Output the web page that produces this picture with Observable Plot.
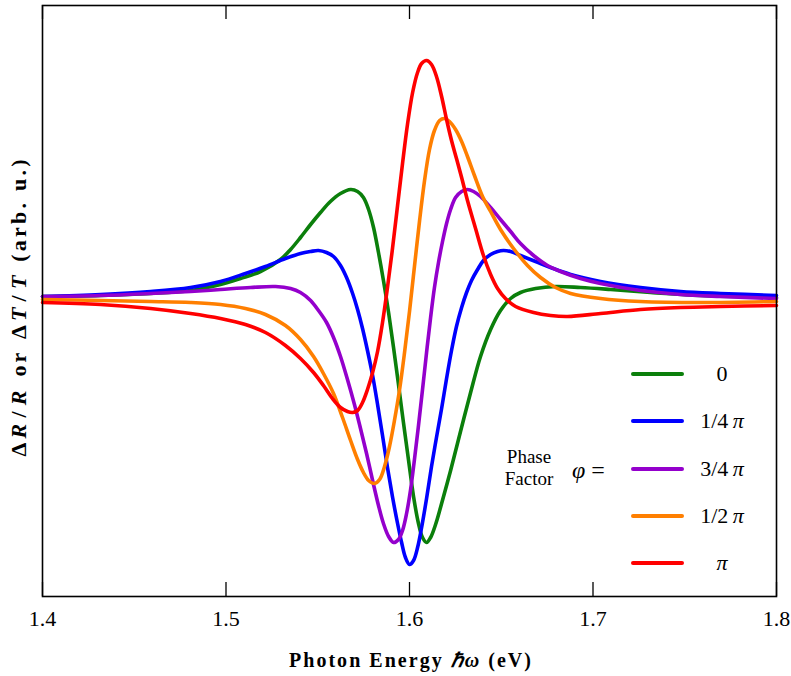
<!DOCTYPE html>
<html><head><meta charset="utf-8">
<script src="https://cdn.jsdelivr.net/npm/d3@7"></script>
<script src="https://cdn.jsdelivr.net/npm/@observablehq/plot@0.6"></script>
<style>
body{margin:0;background:#fff;}
#wrap{position:relative;width:791px;height:676px;font-family:"Liberation Serif","Times New Roman",serif;color:#000;}
.sw{position:absolute;left:631px;width:53px;height:4px;border-radius:2px;}
.lab{position:absolute;left:684px;width:76px;text-align:center;font-size:22px;line-height:24px;white-space:nowrap;}
.lab i{font-style:italic;}
.pf{position:absolute;left:489px;width:80px;text-align:center;font-size:19px;line-height:20px;white-space:nowrap;}
#phi{position:absolute;left:572px;top:457px;font-size:24px;line-height:26px;white-space:nowrap;}
</style></head><body><div id="wrap"></div>
<script>
// phase factors (legend order) and labels
const phaseKeys = ["0", "1/4π", "3/4π", "1/2π", "π"];
const phaseLabels = ["0", "1/4&thinsp;<i>π</i>", "3/4&thinsp;<i>π</i>", "1/2&thinsp;<i>π</i>", "<i>π</i>"];
const xTicks = [1.4, 1.5, 1.6, 1.7, 1.8];

// φ = 0
const energy0 = [1.4000,1.4316,1.4589,1.4807,1.4970,1.5079,1.5188,1.5297,1.5352,1.5406,1.5461,1.5515,1.5569,1.5624,1.5679,1.5717,1.5749,1.5777,1.5804,1.5831,1.5858,1.5886,1.5913,1.5940,1.5967,1.5995,1.6022,1.6049,1.6071,1.6093,1.6115,1.6142,1.6169,1.6224,1.6278,1.6333,1.6387,1.6442,1.6496,1.6551,1.6605,1.6687,1.6796,1.6932,1.7096,1.7314,1.7586,1.8000];
const signal0 = [0.04,0.05,0.07,0.10,0.16,0.22,0.29,0.41,0.51,0.63,0.76,0.88,0.99,1.07,1.11,1.09,1.03,0.91,0.73,0.48,0.20,-0.12,-0.47,-0.84,-1.22,-1.60,-1.96,-2.23,-2.37,-2.42,-2.37,-2.24,-2.07,-1.70,-1.31,-0.92,-0.56,-0.29,-0.10,0.02,0.08,0.12,0.14,0.13,0.11,0.08,0.05,0.03];
// φ = π/4
const energy1 = [1.4000,1.4316,1.4589,1.4807,1.4970,1.5106,1.5215,1.5324,1.5406,1.5461,1.5504,1.5548,1.5586,1.5624,1.5657,1.5690,1.5717,1.5744,1.5771,1.5799,1.5826,1.5853,1.5880,1.5908,1.5935,1.5957,1.5978,1.6000,1.6022,1.6044,1.6066,1.6093,1.6120,1.6147,1.6175,1.6202,1.6229,1.6256,1.6284,1.6311,1.6338,1.6371,1.6403,1.6442,1.6480,1.6512,1.6551,1.6605,1.6687,1.6769,1.6878,1.7041,1.7259,1.7477,1.7695,1.8000];
const signal1 = [0.04,0.06,0.09,0.13,0.19,0.27,0.34,0.42,0.47,0.49,0.50,0.48,0.44,0.35,0.23,0.07,-0.09,-0.28,-0.50,-0.75,-1.04,-1.35,-1.67,-1.97,-2.23,-2.42,-2.57,-2.64,-2.60,-2.47,-2.27,-1.98,-1.66,-1.37,-1.08,-0.78,-0.50,-0.26,-0.07,0.08,0.20,0.31,0.40,0.46,0.49,0.50,0.49,0.45,0.39,0.33,0.26,0.19,0.13,0.09,0.07,0.05];
// φ = 3π/4
const energy2 = [1.4000,1.4316,1.4589,1.4807,1.4970,1.5134,1.5270,1.5352,1.5406,1.5461,1.5504,1.5548,1.5586,1.5624,1.5662,1.5700,1.5733,1.5766,1.5799,1.5831,1.5858,1.5886,1.5913,1.5940,1.5962,1.5984,1.6006,1.6027,1.6049,1.6071,1.6093,1.6115,1.6136,1.6158,1.6180,1.6202,1.6224,1.6251,1.6284,1.6316,1.6349,1.6387,1.6442,1.6496,1.6551,1.6605,1.6676,1.6752,1.6823,1.6932,1.7041,1.7259,1.7477,1.7695,1.8000];
const signal2 = [0.04,0.05,0.07,0.09,0.11,0.13,0.14,0.12,0.08,0.00,-0.10,-0.22,-0.37,-0.56,-0.79,-1.04,-1.28,-1.53,-1.80,-2.05,-2.23,-2.36,-2.42,-2.39,-2.30,-2.13,-1.89,-1.59,-1.25,-0.89,-0.52,-0.17,0.13,0.38,0.59,0.77,0.91,1.03,1.09,1.11,1.09,1.04,0.93,0.81,0.69,0.57,0.45,0.35,0.29,0.22,0.17,0.10,0.06,0.04,0.02];
// φ = π/2
const energy3 = [1.4000,1.4316,1.4589,1.4807,1.4970,1.5106,1.5215,1.5324,1.5406,1.5477,1.5531,1.5586,1.5635,1.5679,1.5717,1.5749,1.5777,1.5809,1.5837,1.5864,1.5891,1.5918,1.5946,1.5973,1.6000,1.6027,1.6055,1.6082,1.6109,1.6136,1.6164,1.6191,1.6218,1.6251,1.6284,1.6316,1.6354,1.6398,1.6442,1.6496,1.6567,1.6643,1.6714,1.6796,1.6878,1.7041,1.7259,1.7586,1.8000];
const signal3 = [0.01,0.00,-0.01,-0.02,-0.04,-0.08,-0.14,-0.25,-0.39,-0.56,-0.73,-0.93,-1.17,-1.40,-1.59,-1.72,-1.80,-1.83,-1.79,-1.66,-1.46,-1.20,-0.89,-0.52,-0.11,0.34,0.80,1.20,1.51,1.70,1.80,1.82,1.79,1.71,1.59,1.44,1.25,1.04,0.89,0.71,0.52,0.35,0.23,0.13,0.07,0.02,-0.01,-0.02,-0.01];
// φ = π
const energy4 = [1.4000,1.4316,1.4589,1.4807,1.4970,1.5106,1.5215,1.5324,1.5406,1.5477,1.5531,1.5580,1.5624,1.5662,1.5690,1.5717,1.5744,1.5771,1.5799,1.5826,1.5853,1.5880,1.5908,1.5935,1.5962,1.5989,1.6017,1.6044,1.6066,1.6093,1.6120,1.6147,1.6175,1.6202,1.6229,1.6256,1.6284,1.6316,1.6360,1.6403,1.6442,1.6480,1.6523,1.6578,1.6676,1.6769,1.6861,1.7041,1.7259,1.7477,1.7695,1.8000];
const signal4 = [-0.02,-0.04,-0.08,-0.13,-0.18,-0.24,-0.32,-0.45,-0.58,-0.72,-0.85,-0.98,-1.07,-1.11,-1.12,-1.10,-1.02,-0.89,-0.72,-0.51,-0.22,0.13,0.53,0.95,1.37,1.76,2.08,2.28,2.37,2.40,2.36,2.24,2.04,1.81,1.60,1.42,1.23,1.00,0.72,0.45,0.26,0.12,0.02,-0.06,-0.12,-0.15,-0.16,-0.13,-0.09,-0.07,-0.06,-0.05];

const lineColors = ["#0b7f0b", "#0000ff", "#9400cc", "#ff7f00", "#ff0000"];

const seriesList = [
  {key: phaseKeys[0], energy: energy0, signal: signal0},
  {key: phaseKeys[1], energy: energy1, signal: signal1},
  {key: phaseKeys[2], energy: energy2, signal: signal2},
  {key: phaseKeys[3], energy: energy3, signal: signal3},
  {key: phaseKeys[4], energy: energy4, signal: signal4}
];
const rows = seriesList.flatMap(s => s.energy.map((e, i) => ({phase: s.key, energy: e, signal: s.signal[i]})));

const W = 791, H = 676, mL = 42, mR = 15, mT = 5, mB = 80;
const innerH = H - mT - mB;

const chart = Plot.plot({
  width: W, height: H,
  marginLeft: mL, marginRight: mR, marginTop: mT, marginBottom: mB,
  style: {fontFamily: "'Liberation Serif','Times New Roman',serif", fontSize: "22px", background: "white", overflow: "visible", color: "black"},
  x: {domain: [1.4, 1.8]},
  y: {domain: [-2.96, 2.95], axis: null},
  color: {domain: phaseKeys, range: lineColors},
  marks: [
    Plot.line(rows, {x: "energy", y: "signal", z: "phase", stroke: "phase", strokeWidth: 3.6, curve: "catmull-rom"}),
    Plot.tickX(xTicks, {x: d => d, insetTop: innerH - 14, stroke: "black", strokeWidth: 1.3}),
    Plot.tickX(xTicks, {x: d => d, insetBottom: innerH - 14, stroke: "black", strokeWidth: 1.3}),
    Plot.frame({stroke: "black", strokeWidth: 1.6}),
    Plot.axisX({ticks: xTicks, tickSize: 0, tickPadding: 14, tickFormat: d3.format(".1f"), label: null})
  ]
});

const wrap = document.getElementById("wrap");
wrap.appendChild(chart);

const svg = d3.select(chart);
// y-axis label
const yl = svg.append("text")
  .attr("transform", "translate(26,308) rotate(-90)")
  .attr("text-anchor", "middle")
  .attr("font-family", "'Liberation Serif','Times New Roman',serif")
  .attr("font-weight", "bold")
  .attr("font-size", 22)
  .attr("textLength", 297).attr("lengthAdjust", "spacing");
[["Δ",0,0],["R",1,1],["/",0,3],["R",1,3],[" or ",0,2],["Δ",0,2],["T",1,1],["/",0,3],["T",1,3],[" (arb. u.)",0,2]].forEach(([t, it, dx]) => {
  yl.append("tspan").attr("font-style", it ? "italic" : "normal").attr("dx", dx).text(t);
});
// x-axis label
const xl = svg.append("text")
  .attr("x", 410).attr("y", 667)
  .attr("text-anchor", "middle")
  .attr("font-family", "'Liberation Serif','Times New Roman',serif")
  .attr("font-weight", "bold")
  .attr("font-size", 20)
  .attr("textLength", 242).attr("lengthAdjust", "spacing");
[["Photon Energy ",0],["ℏω",1],[" (eV)",0]].forEach(([t, it]) => {
  xl.append("tspan").attr("font-style", it ? "italic" : "normal").text(t);
});

// legend
const rowY0 = 374, rowStep = 47.25;
phaseKeys.forEach((k, i) => {
  const cy = rowY0 + i * rowStep;
  const sw = document.createElement("div");
  sw.className = "sw";
  sw.style.top = (cy - 2) + "px";
  sw.style.background = lineColors[i];
  wrap.appendChild(sw);
  const lb = document.createElement("div");
  lb.className = "lab";
  lb.style.top = (cy - 12) + "px";
  lb.innerHTML = phaseLabels[i];
  wrap.appendChild(lb);
});
["Phase", "Factor"].forEach((t, i) => {
  const d = document.createElement("div");
  d.className = "pf";
  d.style.top = (447 + i * 21.5) + "px";
  d.textContent = t;
  wrap.appendChild(d);
});
const phi = document.createElement("div");
phi.id = "phi"; phi.innerHTML = "<i>φ</i> =";
wrap.appendChild(phi);
</script>
</body></html>
